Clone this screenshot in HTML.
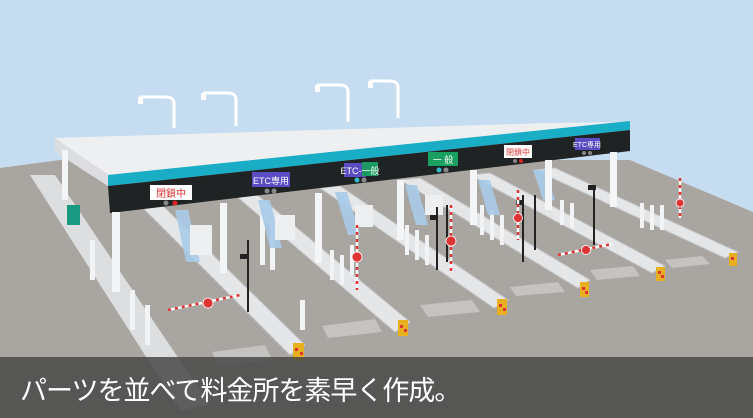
<!DOCTYPE html>
<html><head><meta charset="utf-8"><style>
html,body{margin:0;padding:0;width:753px;height:418px;overflow:hidden;background:#c6ddf1}
svg{display:block}
.cap{position:absolute;left:0;top:357px;width:753px;height:61px;background:rgba(72,72,72,0.85)}
.cap span{position:absolute;left:20px;top:12px;color:#fff;font:27px "Liberation Sans","Noto Sans CJK JP",sans-serif;letter-spacing:-1px}
</style></head><body>
<svg width="753" height="418" viewBox="0 0 753 418" xmlns="http://www.w3.org/2000/svg" font-family="Liberation Sans, Noto Sans CJK JP, sans-serif">
<rect width="753" height="418" fill="#c6ddf1"/>
<polygon points="0,168 60,160 630,160 753,212 753,418 0,418" fill="#a9a5a0"/>
<!-- lamp posts -->
<g stroke="#fff" stroke-width="3" fill="none">
<path d="M174,128 V104 Q174,97 166,97 H140"/><path d="M236,126 V100 Q236,93 228,93 H203"/>
<path d="M348,122 V92 Q348,85 340,85 H317"/><path d="M398,118 V88 Q398,81 390,81 H370"/>
</g>
<g fill="#fff"><rect x="138" y="97" width="5" height="7"/><rect x="201" y="93" width="5" height="7"/><rect x="315" y="85" width="5" height="7"/><rect x="368" y="81" width="5" height="7"/></g>
<!-- left long island -->
<polygon points="30,175 55,175 210,405 180,410" fill="#dcdedf"/>
<!-- islands -->
<g fill="#e4e6e8" stroke="#c4c6c8">
<polygon points="140,205 160,203 305,345 290,355"/>
<polygon points="235,195 255,193 410,322 395,332"/>
<polygon points="320,188 340,186 508,300 494,308"/>
<polygon points="400,180 420,178 590,280 578,288"/>
<polygon points="470,175 490,173 665,266 652,273"/>
<polygon points="535,170 555,168 738,252 725,258"/>
</g>
<!-- white posts -->
<g fill="#f2f3f4">
<rect x="260" y="215" width="5" height="50"/><rect x="270" y="220" width="5" height="50"/><rect x="300" y="300" width="5" height="30"/>
<rect x="330" y="250" width="4" height="30"/><rect x="340" y="255" width="4" height="30"/><rect x="350" y="245" width="4" height="30"/>
<rect x="415" y="230" width="4" height="30"/><rect x="425" y="235" width="4" height="30"/><rect x="405" y="225" width="4" height="30"/>
<rect x="490" y="210" width="4" height="30"/><rect x="500" y="215" width="4" height="30"/><rect x="480" y="205" width="4" height="30"/>
<rect x="560" y="200" width="4" height="25"/><rect x="570" y="203" width="4" height="25"/>
<rect x="640" y="203" width="4" height="25"/><rect x="650" y="205" width="4" height="25"/><rect x="660" y="205" width="4" height="25"/>
<rect x="90" y="240" width="5" height="40"/><rect x="130" y="290" width="5" height="40"/><rect x="145" y="305" width="5" height="40"/>
</g>
<!-- glass booths -->
<g fill="#a9cbe8" opacity="0.9">
<polygon points="175,210 188,210 200,262 186,262"/><polygon points="258,200 270,200 282,248 270,248"/>
<polygon points="335,192 347,192 360,235 348,235"/><polygon points="405,185 417,185 428,225 416,225"/>
<polygon points="478,180 490,180 500,215 488,215"/><polygon points="533,170 545,170 555,200 543,200"/>
</g>
<g fill="#eeeff0"><rect x="190" y="225" width="22" height="30"/><rect x="275" y="215" width="20" height="25"/><rect x="355" y="205" width="18" height="22"/><rect x="425" y="195" width="18" height="20"/></g>
<!-- road marks -->
<g fill="#c4c3c2"><polygon points="212,352 265,345 272,360 218,366"/><polygon points="322,326 375,319 382,332 328,338"/><polygon points="420,305 472,300 480,312 428,317"/><polygon points="510,287 558,282 565,292 516,296"/><polygon points="590,270 633,266 640,276 597,280"/><polygon points="665,260 702,256 710,264 672,268"/></g>
<!-- roof -->
<polygon points="55,138 550,123 630,122 108,175" fill="#eeeff0"/>
<polygon points="55,138 108,175 108,186 55,152" fill="#dcdde0"/>
<polygon points="108,175 630,121 630,130 108,186" fill="#1aadc6"/>
<polygon points="108,186 630,130 630,151 110,213" fill="#202323"/>
<!-- pillars -->
<g fill="#f4f5f6"><rect x="112" y="212" width="8" height="80"/><rect x="220" y="203" width="7" height="70"/><rect x="315" y="193" width="7" height="70"/><rect x="397" y="180" width="7" height="60"/><rect x="470" y="170" width="7" height="55"/><rect x="545" y="160" width="7" height="50"/><rect x="610" y="152" width="7" height="55"/><rect x="62" y="150" width="6" height="50"/></g>
<rect x="67" y="205" width="13" height="20" fill="#1a9a80"/>
<!-- signs -->
<rect x="150" y="185" width="42" height="15" fill="#fff"/><text x="171" y="197" font-size="10" fill="#d33" text-anchor="middle">閉鎖中</text>
<circle cx="166" cy="203" r="2.5" fill="#888"/><circle cx="175" cy="203" r="2.5" fill="#d22"/>
<rect x="252" y="172" width="38" height="15" fill="#5b4cc4"/><text x="271" y="184" font-size="9" fill="#fff" text-anchor="middle">ETC専用</text>
<circle cx="267" cy="191" r="2.5" fill="#888"/><circle cx="274" cy="191" r="2.5" fill="#888"/>
<rect x="344" y="163" width="22" height="14" fill="#5b4cc4"/><rect x="362" y="162" width="16" height="14" fill="#1a9a60"/><text x="360" y="174" font-size="9" fill="#fff" text-anchor="middle">ETC-一般</text>
<circle cx="357" cy="180" r="2.5" fill="#3bc"/><circle cx="364" cy="180" r="2.5" fill="#888"/>
<rect x="428" y="152" width="30" height="14" fill="#1aa060"/><text x="443" y="163" font-size="9" fill="#fff" text-anchor="middle">一 般</text>
<circle cx="439" cy="170" r="2.5" fill="#3bc"/><circle cx="446" cy="170" r="2.5" fill="#888"/>
<rect x="504" y="145" width="28" height="13" fill="#fff"/><text x="518" y="155" font-size="8" fill="#d33" text-anchor="middle">閉鎖中</text>
<circle cx="515" cy="161" r="2" fill="#888"/><circle cx="521" cy="161" r="2" fill="#d22"/>
<rect x="575" y="138" width="25" height="12" fill="#5b4cc4"/><text x="587" y="147" font-size="7" fill="#fff" text-anchor="middle">ETC専用</text>
<circle cx="584" cy="153" r="2" fill="#888"/><circle cx="590" cy="153" r="2" fill="#888"/>
<!-- signal poles -->
<g stroke="#222" stroke-width="2"><line x1="248" y1="240" x2="248" y2="312"/><line x1="437" y1="207" x2="437" y2="270"/><line x1="447" y1="205" x2="447" y2="262"/><line x1="523" y1="195" x2="523" y2="262"/><line x1="535" y1="195" x2="535" y2="250"/><line x1="594" y1="185" x2="594" y2="245"/></g>
<g fill="#222"><rect x="240" y="254" width="8" height="5"/><rect x="430" y="215" width="8" height="5"/><rect x="516" y="200" width="8" height="5"/><rect x="588" y="185" width="8" height="5"/></g>
<!-- barriers -->
<g stroke="#fff" stroke-width="2.5"><line x1="168" y1="310" x2="240" y2="295"/><line x1="357" y1="225" x2="357" y2="290"/><line x1="451" y1="205" x2="451" y2="272"/><line x1="518" y1="190" x2="518" y2="240"/><line x1="558" y1="255" x2="612" y2="244"/><line x1="680" y1="178" x2="680" y2="218"/></g>
<g stroke="#d33" stroke-width="2.5" stroke-dasharray="3 4"><line x1="168" y1="310" x2="240" y2="295"/><line x1="357" y1="225" x2="357" y2="290"/><line x1="451" y1="205" x2="451" y2="272"/><line x1="518" y1="190" x2="518" y2="240"/><line x1="558" y1="255" x2="612" y2="244"/><line x1="680" y1="178" x2="680" y2="218"/></g>
<g fill="#d33" stroke="#fff" stroke-width="0.8"><circle cx="208" cy="303" r="5"/><circle cx="357" cy="257" r="5"/><circle cx="451" cy="241" r="5"/><circle cx="518" cy="218" r="4.5"/><circle cx="586" cy="250" r="4.5"/><circle cx="680" cy="203" r="4"/></g>
<!-- bollards -->
<g fill="#e8b020"><rect x="293" y="343" width="11" height="18"/><rect x="398" y="320" width="10" height="16"/><rect x="497" y="299" width="10" height="16"/><rect x="580" y="282" width="9" height="15"/><rect x="656" y="267" width="9" height="14"/><rect x="729" y="253" width="8" height="13"/></g>
<g fill="#d33"><rect x="295" y="348" width="3" height="3"/><rect x="300" y="352" width="3" height="3"/><rect x="400" y="325" width="3" height="3"/><rect x="404" y="329" width="3" height="3"/><rect x="499" y="304" width="3" height="3"/><rect x="503" y="308" width="3" height="3"/><rect x="582" y="287" width="3" height="3"/><rect x="585" y="291" width="3" height="3"/><rect x="658" y="271" width="3" height="3"/><rect x="661" y="275" width="3" height="3"/><rect x="731" y="257" width="3" height="3"/></g>
</svg>
<div class="cap"><span>パーツを並べて料金所を素早く作成。</span></div>
</body></html>
